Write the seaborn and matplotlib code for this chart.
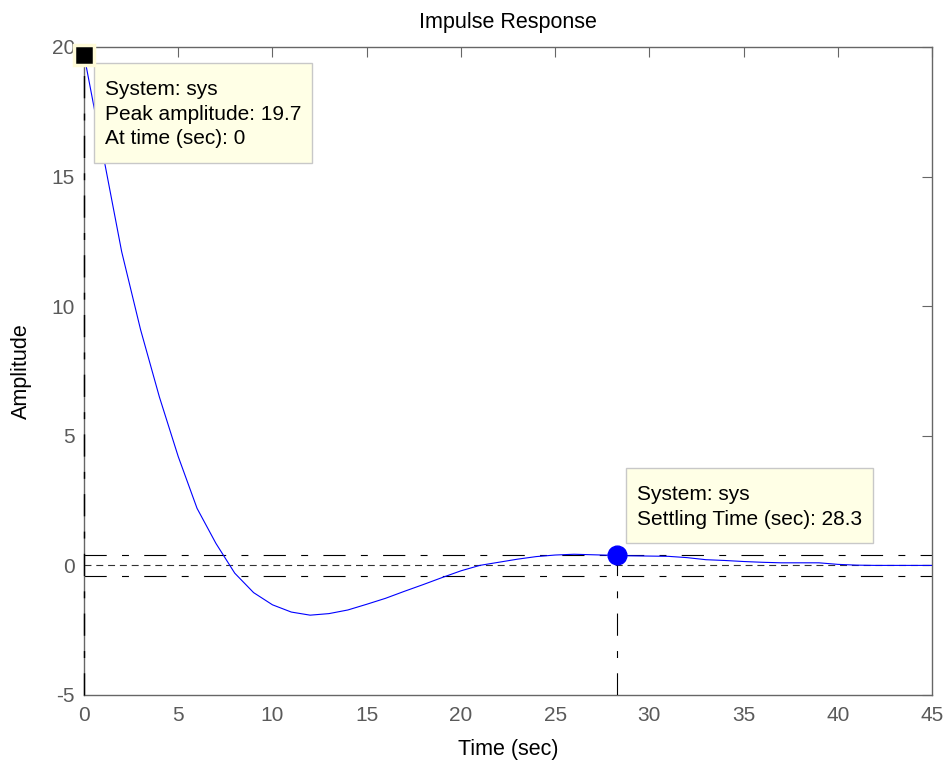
import matplotlib
matplotlib.use("Agg")
import matplotlib.pyplot as plt
import seaborn as sns
import pandas as pd
from matplotlib.path import Path

# ---- data ----
time_s = list(range(0, 46))
amplitude = [19.7, 15.9, 12.1, 9.1, 6.5, 4.2, 2.2, 0.85, -0.3, -1.05,
             -1.52, -1.8, -1.92, -1.86, -1.72, -1.5, -1.27, -1.0, -0.74, -0.47,
             -0.21, 0.0, 0.12, 0.24, 0.34, 0.4, 0.43, 0.41, 0.39, 0.37,
             0.36, 0.35, 0.3, 0.22, 0.19, 0.15, 0.12, 0.1, 0.1, 0.1,
             0.04, 0.01, 0.0, 0.0, 0.0, 0.0]
peak_time = 0.0
peak_amp = 19.7
settling_time = 28.3
settling_band = 0.394
x_ticks = [0, 5, 10, 15, 20, 25, 30, 35, 40, 45]
y_ticks = [-5, 0, 5, 10, 15, 20]
peak_text = ["System: sys", "Peak amplitude: 19.7", "At time (sec): 0"]
settle_text = ["System: sys", "Settling Time (sec): 28.3"]

sns.set_theme(style="white")
plt.rcParams["font.family"] = ["Liberation Sans", "DejaVu Sans"]
plt.rcParams["lines.scale_dashes"] = False

fig = plt.figure(figsize=(9.5, 7.64), dpi=100)
ax = fig.add_axes([84 / 950, 69 / 764, 848 / 950, 648 / 764])

df = pd.DataFrame({"t": time_s, "y": amplitude})
sns.lineplot(data=df, x="t", y="y", ax=ax, color="#0000ff", linewidth=0.8,
             zorder=3)

xmin, xmax = x_ticks[0], x_ticks[-1]
ymin, ymax = y_ticks[0], y_ticks[-1]

dashdot = (16, 11, 5, 11)
ax.axhline(0, color="#333333", linewidth=0.8, dashes=(5, 3.5), zorder=2)
ax.axhline(settling_band, color="black", linewidth=0.8, dashes=dashdot, zorder=2)
ax.axhline(-settling_band, color="black", linewidth=0.8, dashes=dashdot, zorder=2)
ax.plot([peak_time, peak_time], [ymin, peak_amp], color="black",
        linewidth=1.0, dashes=dashdot, zorder=4, clip_on=False)
ax.plot([settling_time, settling_time], [ymin, settling_band], color="black",
        linewidth=0.8, dashes=dashdot, zorder=4)

ax.plot([peak_time], [peak_amp], marker="s", markersize=14,
        markerfacecolor="black", markeredgecolor="#fffbd8",
        markeredgewidth=2.5, linestyle="none", clip_on=False, zorder=10)
ax.plot([settling_time], [settling_band], marker="o", markersize=13.5,
        markerfacecolor="#0000ff", markeredgecolor="#0000ff",
        linestyle="none", zorder=10)


def matlab_box(x0, y0, width, height, mutation_size):
    px = 0.52 * mutation_size
    pt = 0.82 * mutation_size
    pb = 0.68 * mutation_size
    verts = [(x0 - px, y0 - pb), (x0 + width + px, y0 - pb),
             (x0 + width + px, y0 + height + pt), (x0 - px, y0 + height + pt),
             (x0 - px, y0 - pb)]
    return Path(verts, closed=True)


box_props = dict(boxstyle=matlab_box, facecolor="#ffffe6",
                 edgecolor="#c8c8c8", linewidth=1.0)

ax.annotate("\n".join(peak_text), xy=(peak_time, peak_amp),
            xytext=(20.7, -25.3), textcoords="offset pixels",
            ha="left", va="top", fontsize=15, color="black",
            linespacing=1.38, bbox=box_props, zorder=9,
            annotation_clip=False)
ax.annotate("\n".join(settle_text), xy=(settling_time, settling_band),
            xytext=(20, 70), textcoords="offset pixels",
            ha="left", va="top", fontsize=15, color="black",
            linespacing=1.38, bbox=box_props, zorder=9,
            annotation_clip=False)

ax.set_xlim(xmin, xmax)
ax.set_ylim(ymin, ymax)
ax.set_xticks(x_ticks)
ax.set_yticks(y_ticks)
ax.set_xticklabels([str(v) for v in x_ticks])
ax.set_yticklabels([str(v) for v in y_ticks])

for side in ["left", "right", "top", "bottom"]:
    ax.spines[side].set_visible(True)
    ax.spines[side].set_color("#666666")
    ax.spines[side].set_linewidth(1.0)

ax.tick_params(axis="both", which="major", direction="in", length=7,
               width=0.8, color="#666666", labelcolor="#5a5a5a",
               labelsize=15, top=True, right=True)
ax.tick_params(axis="x", pad=8)
ax.tick_params(axis="y", pad=6.5)

ax.set_title("Impulse Response", fontsize=15.5, color="black", pad=14)
ax.set_xlabel("Time (sec)", fontsize=15.5, color="black", labelpad=10)
ax.set_ylabel("Amplitude", fontsize=15.5, color="black", labelpad=14)
ax.grid(False)

fig.savefig("out.png", dpi=100, facecolor="white")
